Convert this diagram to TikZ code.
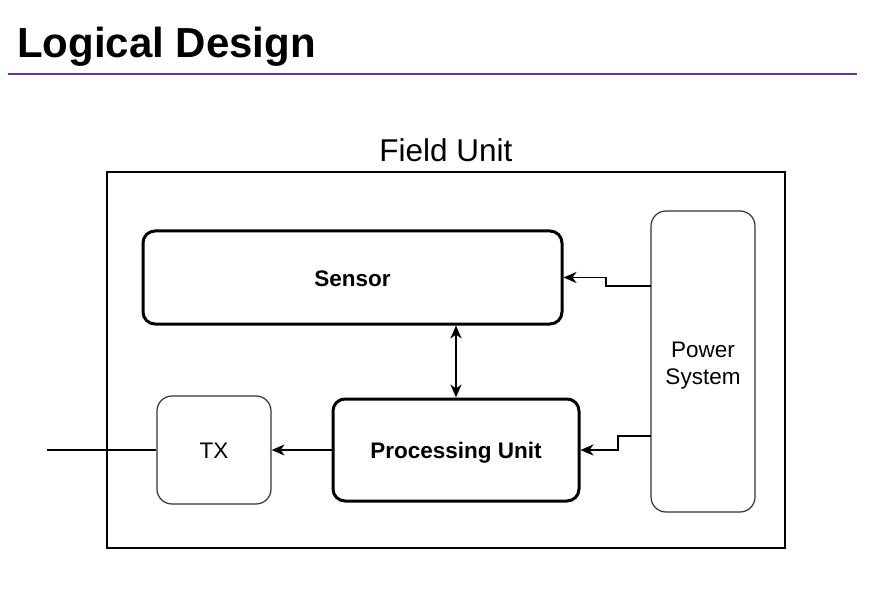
\documentclass[tikz,border=0pt]{standalone}
\usepackage{fontspec}
\setmainfont{Liberation Sans}
\usetikzlibrary{arrows.meta}
\definecolor{titlepurple}{HTML}{7030A0}

\begin{document}
\begin{tikzpicture}[x=1pt,y=-1pt,
  thickbox/.style={draw,line width=3pt,rounded corners=12pt,inner sep=0pt,
    text height=17pt,text depth=0pt,font=\fontsize{22.5}{26}\selectfont\bfseries},
  thinbox/.style={draw=black!80,line width=1.2pt,rounded corners=15pt,inner sep=0pt,
    align=center,font=\fontsize{22.5}{27.5}\selectfont},
  arr/.style={line width=1.5pt,-{Stealth[length=13pt,width=11pt,inset=4pt]}}]

\fill [white] (0,0) rectangle (879,599);
\useasboundingbox (0,0) rectangle (879,599);

% heading
\node (title) [anchor=base west,inner sep=0pt,font=\fontsize{42}{48}\selectfont\bfseries] at (17,58) {Logical Design};
\draw [titlepurple,line width=2pt] (8,74) -- (857,74);

% field unit frame
\node (frame) [draw,line width=2.5pt,minimum width=678pt,minimum height=376pt,inner sep=0pt] at (446,360) {};
\node (framelabel) [anchor=base,inner sep=0pt,font=\fontsize{31.5}{36}\selectfont] at (446,162) {Field Unit};

% blocks
\node (sensor) [thickbox,minimum width=419pt,minimum height=93pt] at (352.5,277.5) {Sensor};
\node (pu) [thickbox,minimum width=246pt,minimum height=102pt] at (456,450) {Processing Unit};
\node (tx) [thinbox,text height=16.5pt,text depth=0pt,minimum width=114pt,minimum height=108pt] at (214,450) {TX};
\node (power) [thinbox,minimum width=104pt,minimum height=301pt] at (703,361.5) {};
\node (powertext) [thinbox,draw=none,yshift=-4pt] at (power.center) {Power\\System};

% links
\coordinate (psensor) at (651,286);
\coordinate (ppu) at (651,436);
\coordinate (antenna) at (47,450);
\draw [arr] (psensor) -- ++(-45,0) |- (sensor.east);
\draw [arr] (ppu) -- ++(-33,0) |- (pu.east);
\draw [line width=1.5pt,{Stealth[length=13pt,width=11pt,inset=4pt]}-{Stealth[length=13pt,width=11pt,inset=4pt]}] (pu.north) -- (pu.north |- sensor.south);
\draw [arr] (pu.west) -- (tx.east);
\draw [line width=1.2pt] (tx.west) -- (antenna);
\end{tikzpicture}
\end{document}
